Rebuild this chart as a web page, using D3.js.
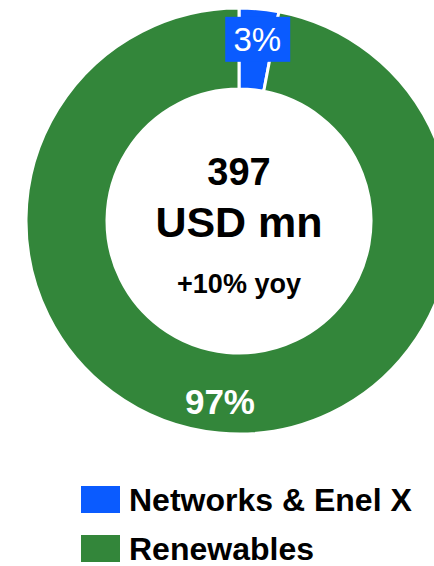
<!DOCTYPE html>
<html>
<head>
<meta charset="utf-8">
<script src="https://cdn.jsdelivr.net/npm/d3@7"></script>
<style>
  html, body { margin: 0; padding: 0; background: #fff; }
  svg { display: block; font-family: "Liberation Sans", Arial, sans-serif; }
</style>
</head>
<body>
<svg id="chart" width="434" height="566"></svg>
<script>
// Datos del gráfico
const categories = ['Networks & Enel X', 'Renewables']
const shares = [3, 97]
const colors = ['#0a5bff', '#33863a']
const centerLines = ['397', 'USD mn', '+10% yoy']

const width = 434
const height = 566
const cx = 239
const cy = 221
const outerR = 213
const innerR = 132

const svg = d3.select('#chart')

const slices = categories.map((c, i) => ({ name: c, value: shares[i], color: colors[i] }))

const pie = d3.pie().sort(null).value(d => d.value)
const arc = d3.arc().innerRadius(innerR).outerRadius(outerR)

const g = svg.append('g').attr('transform', `translate(${cx},${cy})`)

const arcs = pie(slices)

g.selectAll('path.slice')
    .data(arcs)
    .enter()
    .append('path')
    .attr('class', 'slice')
    .attr('d', arc)
    .attr('fill', d => d.data.color)
    .attr('stroke', '#fff')
    .attr('stroke-width', 3)

// Etiquetas de porcentaje
const labelRadius = [183, 181]
arcs.forEach((d, i) => {
    const la = d3.arc().innerRadius(labelRadius[i]).outerRadius(labelRadius[i])
    const [x, y] = la.centroid(d)
    const lbl = g.append('g').attr('transform', `translate(${x + (i === 0 ? 1 : -2)},${y})`)
    if (i === 0) {
        lbl.append('rect')
            .attr('x', -32).attr('y', -22)
            .attr('width', 65).attr('height', 45)
            .attr('fill', d.data.color)
    }
    lbl.append('text')
        .attr('text-anchor', 'middle')
        .attr('dy', '0.36em')
        .attr('fill', '#fff')
        .attr('font-size', i === 0 ? 33 : 35)
        .attr('font-weight', i === 0 ? 'normal' : 'bold')
        .text(d.data.value + '%')
})

// Texto central
const centerY = [185, 237, 293]
const centerSize = [38, 43, 27]
svg.append('g')
    .selectAll('text')
    .data(centerLines)
    .enter()
    .append('text')
    .attr('x', cx)
    .attr('y', (d, i) => centerY[i])
    .attr('text-anchor', 'middle')
    .attr('font-weight', 'bold')
    .attr('font-size', (d, i) => centerSize[i])
    .attr('fill', '#000')
    .text(d => d)

// Leyenda
const legend = svg.append('g').attr('transform', 'translate(81,486)')
const item = legend.selectAll('g')
    .data(slices)
    .enter()
    .append('g')
    .attr('transform', (d, i) => `translate(0,${i * 49})`)

item.append('rect')
    .attr('width', 39)
    .attr('height', 27)
    .attr('fill', d => d.color)

item.append('text')
    .attr('x', 48)
    .attr('y', 25)
    .attr('font-size', 32)
    .attr('font-weight', 'bold')
    .attr('fill', '#000')
    .text(d => d.name)
</script>
</body>
</html>
